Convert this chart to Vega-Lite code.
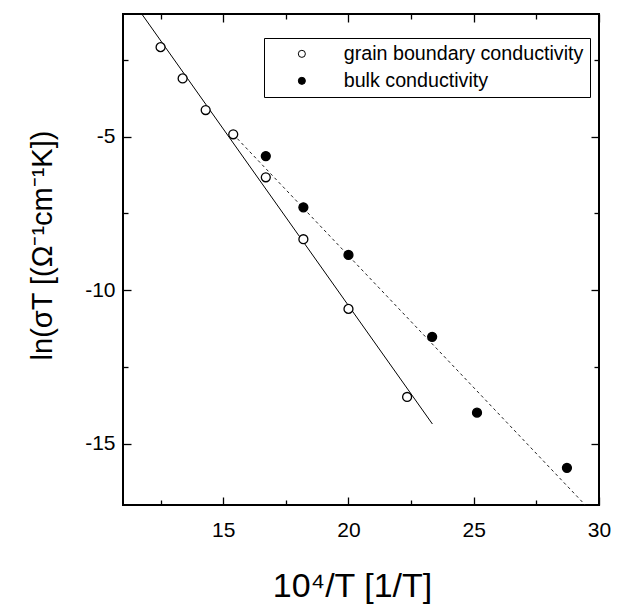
{
  "$schema": "https://vega.github.io/schema/vega-lite/v6.json",
  "width": 476,
  "height": 491,
  "autosize": {"type": "none"},
  "padding": {"left": 123, "top": 14, "right": 26, "bottom": 102},
  "background": "white",
  "config": {
    "view": {"stroke": "black", "strokeWidth": 2},
    "font": "Liberation Sans",
    "axis": {
      "domain": false,
      "grid": false,
      "tickColor": "black",
      "tickWidth": 1.3,
      "labelFont": "Liberation Sans",
      "labelFontSize": 21,
      "labelColor": "black",
      "titleFont": "Liberation Sans",
      "titleFontWeight": "normal",
      "titleColor": "black"
    }
  },
  "datasets": {
    "pts": [
      {"series": "grain boundary conductivity", "x": 12.5, "y": -2.08},
      {"series": "grain boundary conductivity", "x": 13.38, "y": -3.1},
      {"series": "grain boundary conductivity", "x": 14.3, "y": -4.13},
      {"series": "grain boundary conductivity", "x": 15.4, "y": -4.92},
      {"series": "grain boundary conductivity", "x": 16.7, "y": -6.32},
      {"series": "grain boundary conductivity", "x": 18.2, "y": -8.34},
      {"series": "grain boundary conductivity", "x": 20.0, "y": -10.61},
      {"series": "grain boundary conductivity", "x": 22.34, "y": -13.48},
      {"series": "bulk conductivity", "x": 16.7, "y": -5.63},
      {"series": "bulk conductivity", "x": 18.2, "y": -7.3},
      {"series": "bulk conductivity", "x": 20.0, "y": -8.85},
      {"series": "bulk conductivity", "x": 23.34, "y": -11.52},
      {"series": "bulk conductivity", "x": 25.13, "y": -13.99},
      {"series": "bulk conductivity", "x": 28.72, "y": -15.79}
    ],
    "fits": [
      {"fit": "grain", "x": 11.75, "y": -1.0},
      {"fit": "grain", "x": 23.35, "y": -14.36},
      {"fit": "bulk", "x": 15.4, "y": -4.92},
      {"fit": "bulk", "x": 29.45, "y": -17.0}
    ]
  },
  "layer": [
    {
      "data": {"name": "fits"},
      "transform": [{"filter": "datum.fit === 'grain'"}],
      "mark": {"type": "line", "color": "black", "strokeWidth": 1, "clip": true},
      "encoding": {
        "x": {
          "field": "x", "type": "quantitative",
          "scale": {"domain": [11, 30], "nice": false, "zero": false},
          "axis": {
            "orient": "bottom",
            "values": [12.5, 15, 17.5, 20, 22.5, 25, 27.5, 30],
            "labelExpr": "datum.value % 5 === 0 ? '' + datum.value : ''",
            "tickSize": {"condition": {"test": "datum.value % 5 === 0", "value": -8}, "value": -5},
            "labelPadding": 22,
            "labelFlush": false,
            "title": "10⁴/T [1/T]",
            "titleFontSize": 34,
            "titleX": 229,
            "titleY": 91,
            "titleBaseline": "alphabetic",
            "titleAlign": "center"
          }
        },
        "y": {
          "field": "y", "type": "quantitative",
          "scale": {"domain": [-17, -1], "nice": false, "zero": false},
          "axis": {
            "orient": "left",
            "values": [-2.5, -5, -7.5, -10, -12.5, -15],
            "labelExpr": "datum.value % 5 === 0 ? '' + datum.value : ''",
            "tickSize": {"condition": {"test": "datum.value % 5 === 0", "value": -8}, "value": -5},
            "labelPadding": 16,
            "labelFlush": false,
            "title": "ln(σT [(Ω⁻¹cm⁻¹K])",
            "titleFontSize": 29,
            "titleAngle": -90,
            "titleX": -72,
            "titleY": 231,
            "titleBaseline": "alphabetic",
            "titleAlign": "center"
          }
        }
      }
    },
    {
      "data": {"name": "fits"},
      "transform": [{"filter": "datum.fit === 'bulk'"}],
      "mark": {"type": "line", "color": "#222", "strokeWidth": 1, "strokeDash": [3, 3], "clip": true},
      "encoding": {
        "x": {
          "field": "x", "type": "quantitative",
          "axis": {
            "orient": "top",
            "values": [12.5, 15, 17.5, 20, 22.5, 25, 27.5, 30],
            "labels": false,
            "tickSize": {"condition": {"test": "datum.value % 5 === 0", "value": -8}, "value": -5},
            "title": null
          }
        },
        "y": {
          "field": "y", "type": "quantitative",
          "axis": {
            "orient": "right",
            "values": [-2.5, -5, -7.5, -10, -12.5, -15],
            "labels": false,
            "tickSize": {"condition": {"test": "datum.value % 5 === 0", "value": -8}, "value": -5},
            "title": null
          }
        }
      }
    },
    {
      "data": {"name": "pts"},
      "mark": {"type": "point", "shape": "circle", "stroke": "black", "strokeWidth": 1.3, "size": 80, "opacity": 1},
      "encoding": {
        "x": {"field": "x", "type": "quantitative", "axis": null},
        "y": {"field": "y", "type": "quantitative", "axis": null},
        "fill": {
          "field": "series", "type": "nominal",
          "scale": {"domain": ["grain boundary conductivity", "bulk conductivity"], "range": ["white", "black"]},
          "legend": {
            "orient": "none",
            "legendX": 141,
            "legendY": 24,
            "title": null,
            "padding": 6,
            "rowPadding": 6,
            "strokeColor": "black",
            "fillColor": "white",
            "symbolType": "circle",
            "symbolSize": 50,
            "symbolStrokeColor": "black",
            "symbolStrokeWidth": 1,
            "symbolOffset": 22,
            "labelOffset": 32,
            "labelFont": "Liberation Sans",
            "labelFontSize": 19.7,
            "labelColor": "black",
            "labelLimit": 400,
            "encode": {"legend": {"update": {"strokeWidth": {"value": 2}}}}
          }
        }
      }
    }
  ],
  "resolve": {"axis": {"x": "independent", "y": "independent"}}
}
